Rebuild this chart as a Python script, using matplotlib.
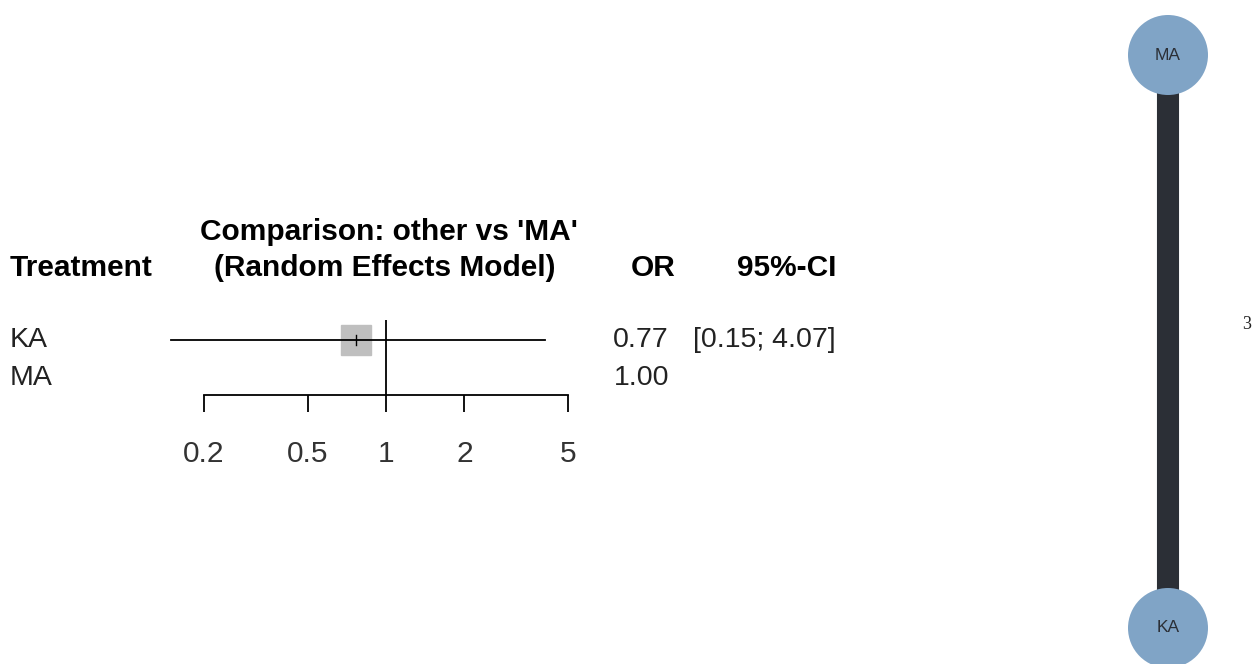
import matplotlib
matplotlib.use("Agg")
import matplotlib.pyplot as plt
from matplotlib.patches import Circle
from matplotlib.transforms import blended_transform_factory

plt.rcParams['font.family'] = ['Liberation Sans', 'DejaVu Sans']

# ---- data ----
treatments = ["KA", "MA"]
odds_ratio = [0.77, 1.00]
ci_lower = [0.15, None]
ci_upper = [4.07, None]
x_ticks = [0.2, 0.5, 1, 2, 5]
x_tick_labels = ["0.2", "0.5", "1", "2", "5"]
reference = "MA"

net_nodes = ["MA", "KA"]
net_node_y = [1.0, 0.0]
net_edge_studies = 3

W, H = 1255, 664
fig = plt.figure(figsize=(W / 100, H / 100), dpi=100)

# ---- forest plot ----
ax = fig.add_axes([204 / W, 1 - 395 / H, 364 / W, 75 / H])
ax.set_xscale("log")
ax.set_xlim(0.2, 5)
ax.set_ylim(2.447, 0.474)
rows = list(range(1, len(treatments) + 1))

for r, est, lo, hi in zip(rows, odds_ratio, ci_lower, ci_upper):
    if lo is None:
        continue
    ax.plot([lo, hi], [r, r], color="black", lw=1.3, clip_on=False, zorder=2)
    ax.plot([est], [r], marker="s", ms=21.5, mfc="#bfbfbf", mec="#bfbfbf",
            clip_on=False, zorder=1)
    ax.plot([est, est], [r - 0.12, r + 0.12], color="black", lw=1.0,
            clip_on=False, zorder=3)

ax.axvline(1, color="black", lw=1.3, zorder=2)

for s in ["top", "left", "right"]:
    ax.spines[s].set_visible(False)
ax.spines["bottom"].set_linewidth(1.3)
ax.set_yticks([])
ax.set_xticks(x_ticks)
ax.set_xticklabels(x_tick_labels)
ax.minorticks_off()
ax.tick_params(axis="x", direction="out", length=12.5, width=1.3,
               pad=20, labelsize=21.5, labelcolor="#333333")
ax.patch.set_alpha(0)

fx = blended_transform_factory(fig.transFigure, ax.transData)


def px(x):
    return x / W


def py(y):
    return 1 - y / H


hdr_fs = 21.5
txt_fs = 20.5
fig.text(px(10), py(268), "Treatment", fontsize=hdr_fs, fontweight="bold",
         ha="left", va="center")
fig.text(px(389), py(232), f"Comparison: other vs '{reference}'", fontsize=hdr_fs,
         fontweight="bold", ha="center", va="center")
fig.text(px(385), py(268), "(Random Effects Model)", fontsize=hdr_fs,
         fontweight="bold", ha="center", va="center")
fig.text(px(675), py(268), "OR", fontsize=hdr_fs, fontweight="bold",
         ha="right", va="center")
fig.text(px(836), py(268), "95%-CI", fontsize=hdr_fs, fontweight="bold",
         ha="right", va="center")

for r, name, est, lo, hi in zip(rows, treatments, odds_ratio, ci_lower, ci_upper):
    fig.text(px(10), r, name, transform=fx, fontsize=txt_fs, ha="left",
             va="center", color="#222222")
    fig.text(px(669), r, f"{est:.2f}", transform=fx, fontsize=txt_fs, ha="right",
             va="center", color="#222222")
    if lo is not None:
        fig.text(px(836), r, f"[{lo:.2f}; {hi:.2f}]", transform=fx,
                 fontsize=txt_fs, ha="right", va="center", color="#222222")

# ---- network graph ----
scale = 573.0
cx = 1168
nax = fig.add_axes([1088 / W, 0, (W - 1088) / W, 1])
nax.set_xlim(-(cx - 1088) / scale, (W - cx) / scale)
nax.set_ylim(-(H - 628) / scale, 1 + 55 / scale)
nax.axis("off")
nax.patch.set_alpha(0)

edge_lw = net_edge_studies * 5.3
nax.plot([0, 0], net_node_y, color="#2b2f36", lw=edge_lw,
         solid_capstyle="butt", zorder=1)
for name, y in zip(net_nodes, net_node_y):
    nax.add_patch(Circle((0, y), 40 / scale, facecolor="#80a4c6",
                         edgecolor="none", zorder=2, clip_on=False))
    nax.text(0, y, name, fontsize=12.5, ha="center", va="center",
             color="#2b2f36", zorder=3)

nax.text(79 / scale, 0.5 + 0.029, str(net_edge_studies), fontsize=13,
         family="Liberation Serif", ha="center", va="center", color="#222222",
         clip_on=False)

fig.savefig("out.png", dpi=100)
